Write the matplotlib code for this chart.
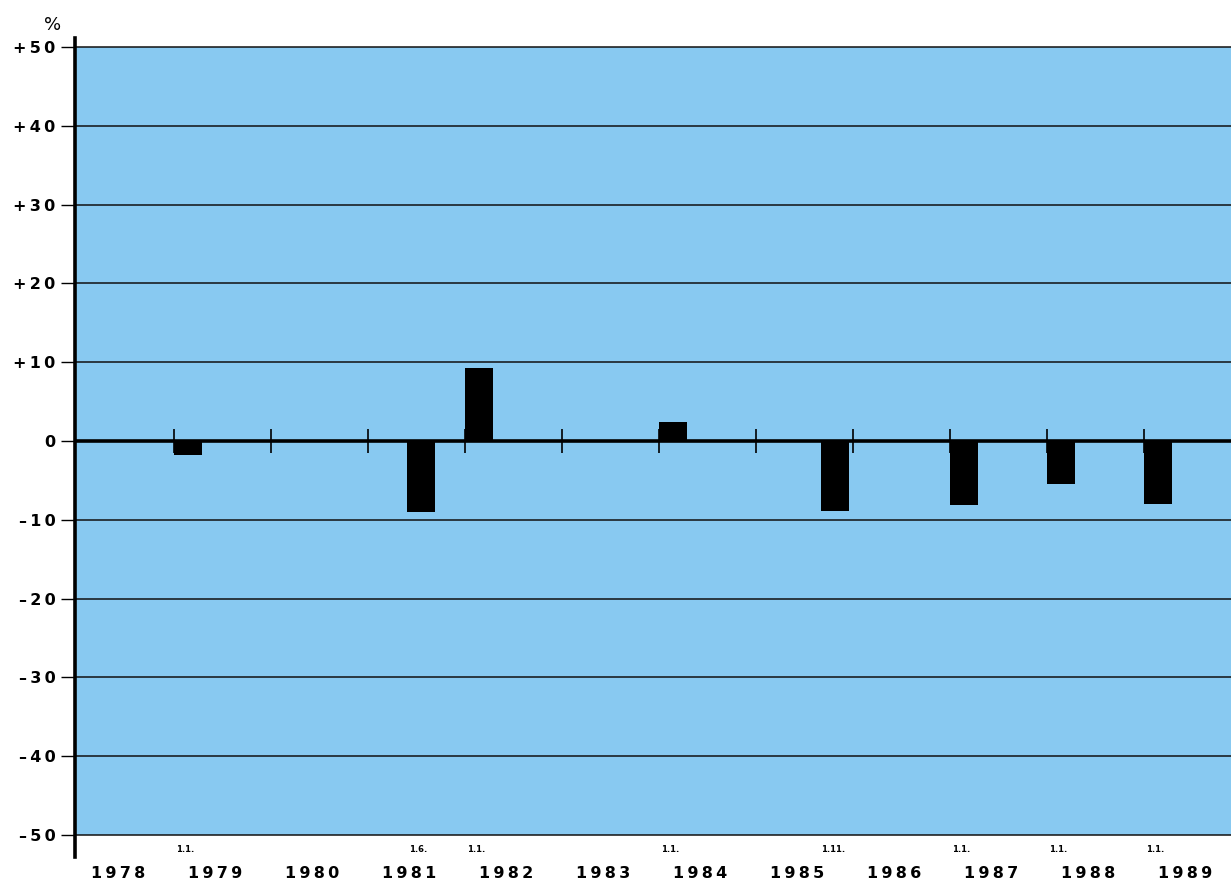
import matplotlib
matplotlib.use("Agg")
import matplotlib.pyplot as plt
from matplotlib.lines import Line2D

# ---- data ----
bar_dates = ["1.1.", "1.6.", "1.1.", "1.1.", "1.11.", "1.1.", "1.1.", "1.1."]
bar_x = [1979.0, 1981.4, 1982.0, 1984.0, 1985.67, 1987.0, 1988.0, 1989.0]   # left edge (year)
bar_values = [-1.8, -9.0, 9.3, 2.4, -8.9, -8.1, -5.5, -8.0]
years = list(range(1978, 1990))
year_labels = ["1978", "1979", "1980", "1981", "1982", "1983", "1984", "1985",
               "1986", "1987", "1988", "1989"]
y_ticks = [50, 40, 30, 20, 10, 0, -10, -20, -30, -40, -50]
y_labels = ["+50", "+40", "+30", "+20", "+10", "0", "\u201310", "\u201320", "\u201330", "\u201340", "\u201350"]

BG = "#88c9f1"
TS = "\u2009"

def spaced(s):
    return TS.join(list(s))

fig = plt.figure(figsize=(12.31, 8.82), dpi=100)
W, H = 1231, 882
ax_left, ax_right = 75, 1231
ax_top, ax_bot = 47, 835
ax = fig.add_axes([ax_left / W, 1 - ax_bot / H, (ax_right - ax_left) / W, (ax_bot - ax_top) / H])
ax.set_facecolor(BG)

x0 = 1978 - 2 / 97
x1 = 1978 + (1231 - 77) / 97
ax.set_xlim(x0, x1)
ax.set_ylim(-50, 50)

# horizontal grid lines
for v in y_ticks:
    if v == 0:
        continue
    ax.axhline(v, color="#111111", lw=1.1, zorder=1, clip_on=False)
ax.axhline(0, color="black", lw=2.6, zorder=3)

# year ticks on the zero line
for yr in years[1:]:
    ax.vlines(yr, -1.5, 1.5, color="black", lw=1.2, zorder=3)

# bars
ax.bar(bar_x, bar_values, width=0.29, align="edge", color="black", zorder=4)

# spines
for s in ax.spines.values():
    s.set_visible(False)
ax.add_line(Line2D([x0, x0], [51.2, -52.8], color="black", lw=2.6, clip_on=False, zorder=5))

ax.set_yticks(y_ticks)
ax.set_yticklabels([spaced(l) for l in y_labels], fontsize=11.5, fontweight="bold")
ax.tick_params(axis="y", length=10, width=1.0, pad=4, direction="out")
ax.set_xticks([])

# percent sign
ax.text(x0 - 0.23, 52.8, "%", fontsize=13, ha="center", va="center", clip_on=False)

# date labels
for bx, d in zip(bar_x, bar_dates):
    ax.text(bx + 0.12, -51.3, d, fontsize=6, fontweight="bold", ha="center", va="top", clip_on=False)

# year labels
for yr, lab in zip(years, year_labels):
    ax.text(yr + 0.42, -54.9, spaced(lab), fontsize=11.5, fontweight="bold", ha="center", va="center",
            clip_on=False)

fig.savefig("out.png", dpi=100, facecolor="white")
